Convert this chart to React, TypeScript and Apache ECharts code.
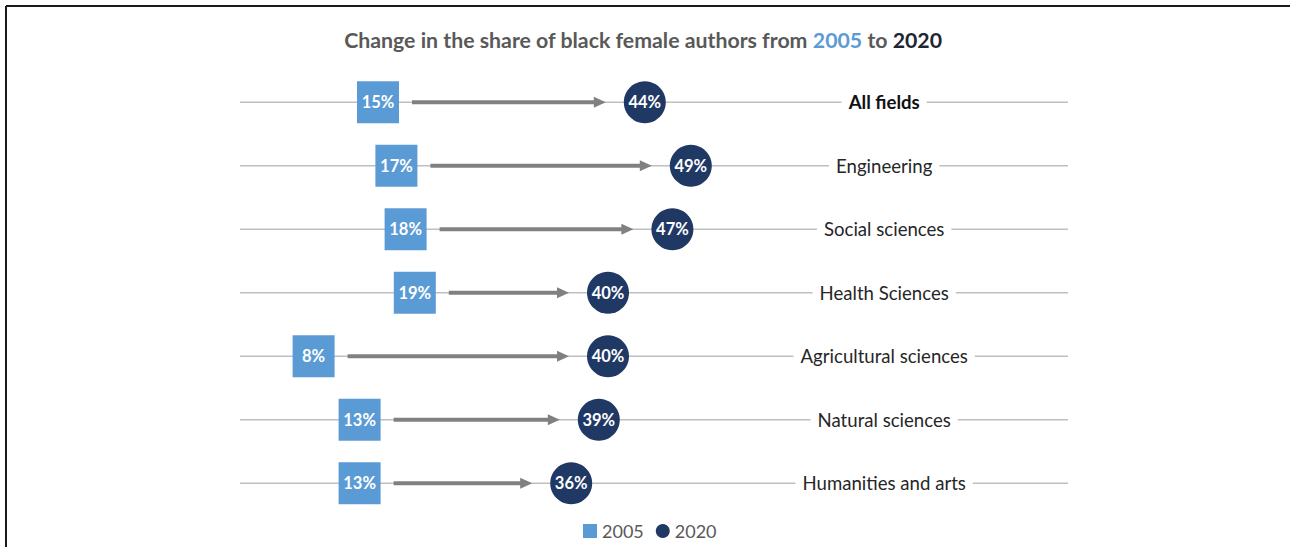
import React, { useEffect, useRef } from "react";
import * as echarts from "echarts";

// Share of black female authors per field, 2005 vs 2020 (percent)
const categories = [
  "All fields",
  "Engineering",
  "Social sciences",
  "Health Sciences",
  "Agricultural sciences",
  "Natural sciences",
  "Humanities and arts",
];
const share2005 = [15, 17, 18, 19, 8, 13, 13];
const share2020 = [44, 49, 47, 40, 40, 39, 36];
const seriesNames = ["2005", "2020"];

const BLUE = "#5B9BD5";
const NAVY = "#203864";
const FONT = "Lato";
const MARK = 42; // marker size in px
const HEAD = 12; // arrow head length

export default function App() {
  const ref = useRef<HTMLDivElement>(null);

  useEffect(() => {
    if (!ref.current) return;
    const chart = echarts.init(ref.current, undefined, { renderer: "svg" });

    const rows = categories.map((_, i) => [share2005[i], share2020[i], i]);

    chart.setOption({
      animation: false,
      backgroundColor: "#ffffff",
      grid: { left: 240, right: 222, top: 70.5, height: 444.5 },
      xAxis: { type: "value", min: 0, max: 90, show: false },
      yAxis: { type: "category", data: categories, inverse: true, show: false },
      legend: {
        data: seriesNames,
        left: 583,
        top: 522,
        padding: 0,
        itemWidth: 14,
        itemHeight: 14,
        itemGap: 12,
        textStyle: { color: "#595959", fontSize: 18, fontFamily: FONT },
        selectedMode: false,
      },
      graphic: [
        {
          type: "line",
          shape: { x1: 6, y1: 6, x2: 1290, y2: 6 },
          style: { stroke: "#1a1a1a", lineWidth: 2 },
          silent: true,
        },
        {
          type: "line",
          shape: { x1: 6, y1: 6, x2: 6, y2: 547 },
          style: { stroke: "#1a1a1a", lineWidth: 2 },
          silent: true,
        },
        {
          type: "text",
          x: 643,
          y: 40,
          silent: true,
          style: {
            text: "{a|Change in the share of black female authors from }{b|2005}{a| to }{c|2020}",
            align: "center",
            verticalAlign: "middle",
            rich: {
              a: { fill: "#595959", fontSize: 21.3, fontWeight: "bold", fontFamily: FONT },
              b: { fill: BLUE, fontSize: 21.3, fontWeight: "bold", fontFamily: FONT },
              c: { fill: "#1e2533", fontSize: 21.3, fontWeight: "bold", fontFamily: FONT },
            },
          },
        },
      ],
      series: [
        {
          type: "custom",
          name: "rows",
          data: rows,
          encode: { x: [0, 1], y: 2 },
          silent: true,
          z: 1,
          renderItem: (params: any, api: any) => {
            const i = api.value(2);
            const a = api.coord([api.value(0), i]);
            const b = api.coord([api.value(1), i]);
            const cs = params.coordSys;
            const y = a[1];
            const x0 = a[0] + MARK / 2 + 13;
            const x1 = b[0] - MARK / 2 - 18;
            return {
              type: "group",
              children: [
                {
                  type: "line",
                  shape: { x1: cs.x, y1: y, x2: cs.x + cs.width, y2: y },
                  style: { stroke: "#BFBFBF", lineWidth: 1.6 },
                },
                {
                  type: "text",
                  x: cs.x + cs.width * 0.778,
                  y,
                  z2: 5,
                  style: {
                    text: categories[i],
                    align: "center",
                    verticalAlign: "middle",
                    fill: i === 0 ? "#111111" : "#262626",
                    fontSize: 18.6,
                    fontWeight: i === 0 ? "bold" : "normal",
                    fontFamily: FONT,
                    backgroundColor: "#ffffff",
                    padding: [2, 7],
                  },
                },
                {
                  type: "line",
                  shape: { x1: x0, y1: y, x2: x1 - HEAD + 1, y2: y },
                  style: { stroke: "#808080", lineWidth: 4 },
                },
                {
                  type: "polygon",
                  shape: {
                    points: [
                      [x1 - HEAD, y - 5.5],
                      [x1, y],
                      [x1 - HEAD, y + 5.5],
                    ],
                  },
                  style: { fill: "#808080" },
                },
              ],
            };
          },
        },
        {
          type: "scatter",
          name: seriesNames[0],
          symbol: "rect",
          symbolSize: MARK,
          z: 3,
          itemStyle: { color: BLUE, opacity: 1 },
          data: share2005.map((v, i) => [v, i]),
          label: {
            show: true,
            position: "inside",
            formatter: (p: any) => `${p.value[0]}%`,
            color: "#ffffff",
            fontSize: 16.5,
            fontWeight: "bold",
            fontFamily: FONT,
          },
          emphasis: { disabled: true },
        },
        {
          type: "scatter",
          name: seriesNames[1],
          symbol: "circle",
          symbolSize: MARK,
          z: 3,
          itemStyle: { color: NAVY, opacity: 1 },
          data: share2020.map((v, i) => [v, i]),
          label: {
            show: true,
            position: "inside",
            formatter: (p: any) => `${p.value[0]}%`,
            color: "#ffffff",
            fontSize: 16.5,
            fontWeight: "bold",
            fontFamily: FONT,
          },
          emphasis: { disabled: true },
        },
      ],
    });

    return () => chart.dispose();
  }, []);

  return (
    <div
      ref={ref}
      style={{ position: "fixed", left: 0, top: 0, width: 1290, height: 547, background: "#fff" }}
    />
  );
}
